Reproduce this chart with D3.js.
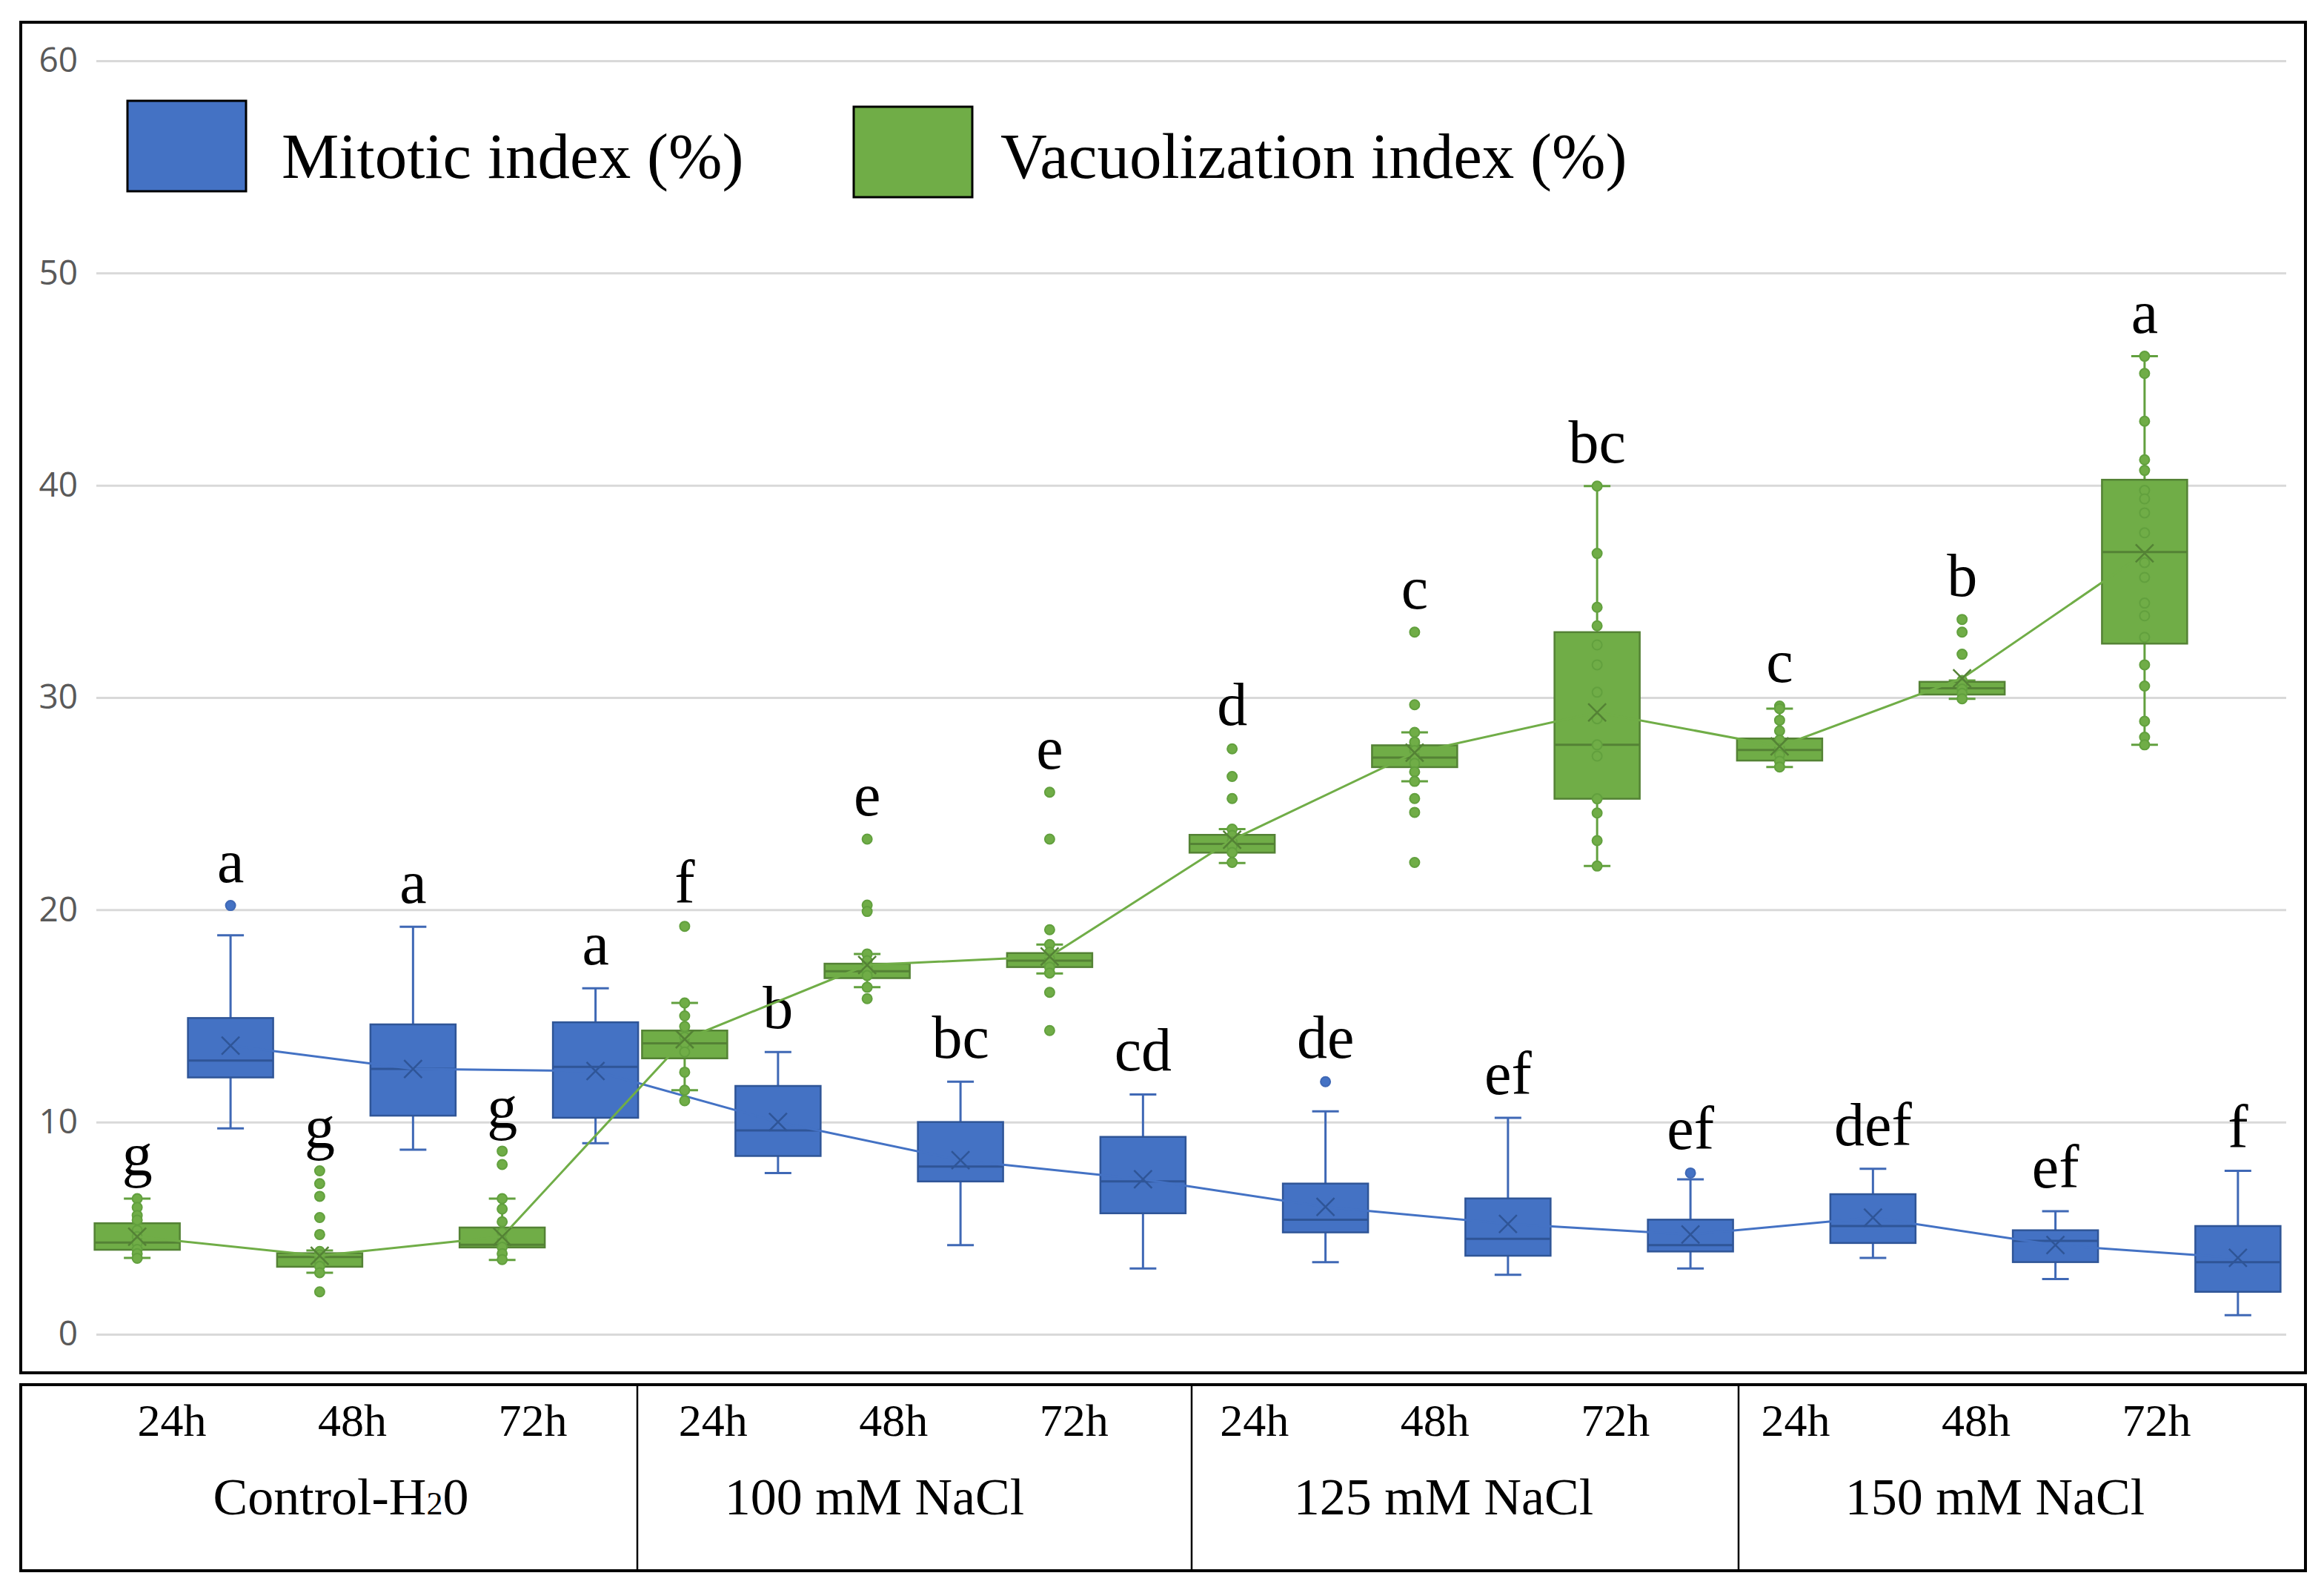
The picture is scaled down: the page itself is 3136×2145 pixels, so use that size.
<!DOCTYPE html>
<html>
<head>
<meta charset="utf-8">
<script src="https://cdn.jsdelivr.net/npm/d3@7"></script>
<style>
  body { margin: 0; background: #fff; }
  svg { display: block; }
</style>
</head>
<body>
<div id="chart"></div>
<script>
// treatments and sampling times
var groups = ["Control-H20", "100 mM NaCl", "125 mM NaCl", "150 mM NaCl"];
var times = ["24h", "48h", "72h"];
var yTicks = [0, 10, 20, 30, 40, 50, 60];

// Mitotic index (%) - blue boxes
var mitLow = [9.7, 8.7, 9.0, 7.6, 4.2, 3.1, 3.4, 2.8, 3.1, 3.6, 2.6, 0.9];
var mitQ1 = [12.1, 10.3, 10.2, 8.4, 7.2, 5.7, 4.8, 3.7, 3.9, 4.3, 3.4, 2.0];
var mitMedian = [12.9, 12.5, 12.6, 9.6, 7.9, 7.2, 5.4, 4.5, 4.2, 5.1, 4.4, 3.4];
var mitQ3 = [14.9, 14.6, 14.7, 11.7, 10.0, 9.3, 7.1, 6.4, 5.4, 6.6, 4.9, 5.1];
var mitHigh = [18.8, 19.2, 16.3, 13.3, 11.9, 11.3, 10.5, 10.2, 7.3, 7.8, 5.8, 7.7];
var mitMean = [13.6, 12.5, 12.4, 10.0, 8.2, 7.3, 6.0, 5.2, 4.7, 5.5, 4.2, 3.6];
var mitPoints = [[20.2], [], [], [], [], [], [11.9], [], [7.6], [], [], []];
var mitLetters = ["a", "a", "a", "b", "bc", "cd", "de", "ef", "ef", "def", "ef", "f"];

// Vacuolization index (%) - green boxes
var vacLow = [3.6, 2.9, 3.5, 11.5, 16.35, 17.0, 22.2, 26.05, 22.06, 26.73, 29.94, 27.77];
var vacQ1 = [3.98, 3.18, 4.09, 13.0, 16.78, 17.3, 22.69, 26.72, 25.23, 27.03, 30.14, 32.54];
var vacMedian = [4.32, 3.64, 4.22, 13.71, 17.1, 17.6, 23.1, 27.17, 27.77, 27.53, 30.44, 36.85];
var vacQ3 = [5.23, 3.82, 5.03, 14.31, 17.46, 17.96, 23.53, 27.75, 33.08, 28.07, 30.74, 40.26];
var vacHigh = [6.39, 3.95, 6.39, 15.61, 17.92, 18.36, 23.8, 28.36, 39.96, 29.48, 30.8, 46.08];
var vacMean = [4.6, 3.7, 4.6, 13.9, 17.4, 17.8, 23.3, 27.4, 29.3, 27.7, 30.9, 36.8];
var vacPoints = [
  [6.39, 5.98, 5.6, 5.38, 4.9, 4.6, 4.3, 4.0, 3.8, 3.58],
  [7.7, 7.1, 6.5, 5.5, 4.7, 3.9, 3.75, 3.6, 3.4, 3.2, 2.9, 2.0],
  [8.63, 8.0, 6.39, 5.9, 5.3, 4.8, 4.4, 4.1, 3.8, 3.52],
  [19.22, 15.61, 15.0, 14.5, 14.0, 13.7, 13.3, 12.35, 11.5, 11.0],
  [23.33, 20.22, 19.92, 17.92, 17.6, 17.3, 17.1, 16.9, 16.35, 15.81],
  [25.54, 23.33, 19.06, 18.36, 18.0, 17.7, 17.5, 17.3, 17.02, 16.11, 14.31],
  [27.58, 26.28, 25.24, 23.8, 23.5, 23.2, 23.0, 22.7, 22.23],
  [33.08, 29.66, 28.36, 27.9, 27.5, 27.2, 26.9, 26.5, 26.05, 25.24, 24.59, 22.23],
  [39.96, 36.79, 34.25, 33.38, 32.48, 31.54, 30.25, 29.0, 27.77, 27.24, 25.23, 24.56, 23.26, 22.06],
  [29.6, 29.48, 28.93, 28.43, 28.0, 27.6, 27.3, 27.0, 26.73],
  [33.68, 33.08, 32.04, 30.8, 30.6, 30.4, 30.2, 29.94],
  [46.08, 45.27, 43.02, 41.2, 40.7, 39.76, 39.36, 38.7, 37.76, 36.36, 35.66, 34.45, 33.85, 32.84, 31.54, 30.54, 28.88, 28.13, 27.77]
];
var vacLetters = ["g", "g", "g", "f", "e", "e", "d", "c", "bc", "c", "b", "a"];

var categories = [];
groups.forEach(function (g) {
  times.forEach(function (t) {
    categories.push(g + " " + t);
  });
});

var width = 3136, height = 2145;
var serif = "'Liberation Serif', 'Times New Roman', serif";

var svg = d3.select("#chart").append("svg")
  .attr("width", width)
  .attr("height", height)
  .style("background", "#fff");

var y = d3.scaleLinear().domain([0, 60]).range([1800, 82]);
var x = d3.scaleBand().domain(categories).range([125, 3080]);
// vacuolization is the left box in each category
var sub = d3.scaleBand().domain(["vac", "mit"]).range([0, x.bandwidth()])
  .paddingInner(0.087).paddingOuter(0.021);

// gridlines + y labels
var yAxis = svg.append("g")
  .attr("transform", "translate(130,0)")
  .call(d3.axisLeft(y).tickValues(yTicks).tickSize(-2955).tickPadding(25));
yAxis.select(".domain").remove();
yAxis.selectAll(".tick line").attr("stroke", "#d9d9d9").attr("stroke-width", 3);
yAxis.selectAll(".tick text")
  .attr("fill", "#595959")
  .style("font-family", "'Open Sans', 'Liberation Sans', sans-serif")
  .style("font-size", "46px");

// plot frame
svg.append("rect")
  .attr("x", 28).attr("y", 30)
  .attr("width", 3083).attr("height", 1822)
  .attr("fill", "none").attr("stroke", "#000").attr("stroke-width", 4);

var series = [
  { key: "mit", fill: "#4472C4", edge: "#2F5597", whisk: "#3F68B5",
    low: mitLow, q1: mitQ1, med: mitMedian, q3: mitQ3, high: mitHigh,
    mean: mitMean, points: mitPoints, letters: mitLetters },
  { key: "vac", fill: "#70AD47", edge: "#548235", whisk: "#62A03E",
    low: vacLow, q1: vacQ1, med: vacMedian, q3: vacQ3, high: vacHigh,
    mean: vacMean, points: vacPoints, letters: vacLetters }
];

function cx(s, i) {
  return x(categories[i]) + sub(s.key) + sub.bandwidth() / 2;
}

series.forEach(function (s) {
  var bw = sub.bandwidth();
  var g = svg.append("g").attr("class", "series-" + s.key);
  var idx = d3.range(categories.length);

  // whiskers
  g.selectAll(".whisk-hi").data(idx).enter().append("line")
    .attr("x1", function (i) { return cx(s, i); })
    .attr("x2", function (i) { return cx(s, i); })
    .attr("y1", function (i) { return y(s.high[i]); })
    .attr("y2", function (i) { return y(s.q3[i]); })
    .attr("stroke", s.whisk).attr("stroke-width", 3);
  g.selectAll(".whisk-lo").data(idx).enter().append("line")
    .attr("x1", function (i) { return cx(s, i); })
    .attr("x2", function (i) { return cx(s, i); })
    .attr("y1", function (i) { return y(s.q1[i]); })
    .attr("y2", function (i) { return y(s.low[i]); })
    .attr("stroke", s.whisk).attr("stroke-width", 3);
  [s.high, s.low].forEach(function (arr) {
    g.selectAll(null).data(idx).enter().append("line")
      .attr("x1", function (i) { return cx(s, i) - 18; })
      .attr("x2", function (i) { return cx(s, i) + 18; })
      .attr("y1", function (i) { return y(arr[i]); })
      .attr("y2", function (i) { return y(arr[i]); })
      .attr("stroke", s.whisk).attr("stroke-width", 3);
  });

  // boxes
  g.selectAll(".box").data(idx).enter().append("rect")
    .attr("x", function (i) { return cx(s, i) - bw / 2; })
    .attr("y", function (i) { return y(s.q3[i]); })
    .attr("width", bw)
    .attr("height", function (i) { return y(s.q1[i]) - y(s.q3[i]); })
    .attr("fill", s.fill).attr("stroke", s.edge).attr("stroke-width", 2.5);

  // medians
  g.selectAll(".median").data(idx).enter().append("line")
    .attr("x1", function (i) { return cx(s, i) - bw / 2; })
    .attr("x2", function (i) { return cx(s, i) + bw / 2; })
    .attr("y1", function (i) { return y(s.med[i]); })
    .attr("y2", function (i) { return y(s.med[i]); })
    .attr("stroke", s.edge).attr("stroke-width", 3);

  // points
  var pts = [];
  s.points.forEach(function (list, i) {
    list.forEach(function (v) { pts.push({ i: i, v: v }); });
  });
  g.selectAll(".pt").data(pts).enter().append("circle")
    .attr("cx", function (d) { return cx(s, d.i); })
    .attr("cy", function (d) { return y(d.v); })
    .attr("r", 6.5)
    .attr("fill", s.fill).attr("stroke", s.whisk).attr("stroke-width", 2);

  // mean line
  var line = d3.line()
    .x(function (i) { return cx(s, i); })
    .y(function (i) { return y(s.mean[i]); });
  g.append("path").datum(idx)
    .attr("d", line)
    .attr("fill", "none").attr("stroke", s.fill).attr("stroke-width", 3);

  // mean markers (x)
  var m = g.selectAll(".mean").data(idx).enter().append("g")
    .attr("transform", function (i) { return "translate(" + cx(s, i) + "," + y(s.mean[i]) + ")"; });
  m.append("path")
    .attr("d", "M-12,-12L12,12M-12,12L12,-12")
    .attr("stroke", s.edge).attr("stroke-width", 2.5).attr("fill", "none");

  // significance letters
  g.selectAll(".letter").data(idx).enter().append("text")
    .attr("x", function (i) { return cx(s, i); })
    .attr("y", function (i) {
      var top = d3.max([s.high[i]].concat(s.points[i]));
      return y(top) - 32;
    })
    .attr("text-anchor", "middle")
    .style("font-family", serif)
    .style("font-size", "82px")
    .attr("fill", "#000")
    .text(function (i) { return s.letters[i]; });
});

// legend
var legend = [
  { label: "Mitotic index (%)", fill: "#4472C4", bx: 172, by: 136, tx: 380 },
  { label: "Vacuolization index (%)", fill: "#70AD47", bx: 1152, by: 144, tx: 1350 }
];
var lg = svg.append("g").selectAll("g").data(legend).enter().append("g");
lg.append("rect")
  .attr("x", function (d) { return d.bx; })
  .attr("y", function (d) { return d.by; })
  .attr("width", 160).attr("height", 122)
  .attr("fill", function (d) { return d.fill; })
  .attr("stroke", "#000").attr("stroke-width", 3);
lg.append("text")
  .attr("x", function (d) { return d.tx; })
  .attr("y", 240)
  .style("font-family", serif)
  .style("font-size", "87px")
  .attr("fill", "#000")
  .text(function (d) { return d.label; });

// category table under the chart
var tableTop = 1868, tableBottom = 2119;
var cuts = [28, 860, 1608, 2346, 3111];
var groupCenters = [460, 1180, 1948, 2692];
var t = svg.append("g");
t.append("rect")
  .attr("x", 28).attr("y", tableTop)
  .attr("width", 3083).attr("height", tableBottom - tableTop)
  .attr("fill", "none").attr("stroke", "#000").attr("stroke-width", 4);
t.selectAll(".cut").data(cuts.slice(1, -1)).enter().append("line")
  .attr("x1", function (d) { return d; }).attr("x2", function (d) { return d; })
  .attr("y1", tableTop).attr("y2", tableBottom)
  .attr("stroke", "#000").attr("stroke-width", 2.5);

var xt = d3.scalePoint().domain(categories).range([232, 2910]);
t.selectAll(".time").data(categories).enter().append("text")
  .attr("x", function (d) { return xt(d); })
  .attr("y", 1937)
  .attr("text-anchor", "middle")
  .style("font-family", serif)
  .style("font-size", "62px")
  .text(function (d, i) { return times[i % 3]; });

var gl = t.selectAll(".group").data(groups).enter().append("text")
  .attr("x", function (d, i) { return groupCenters[i]; })
  .attr("y", 2043)
  .attr("text-anchor", "middle")
  .style("font-family", serif)
  .style("font-size", "70px");
gl.each(function (d) {
  var el = d3.select(this);
  if (d === "Control-H20") {
    el.append("tspan").text("Control-H");
    el.append("tspan").style("font-size", "44px").text("2");
    el.append("tspan").text("0");
  } else {
    el.text(d);
  }
});
</script>
</body>
</html>
